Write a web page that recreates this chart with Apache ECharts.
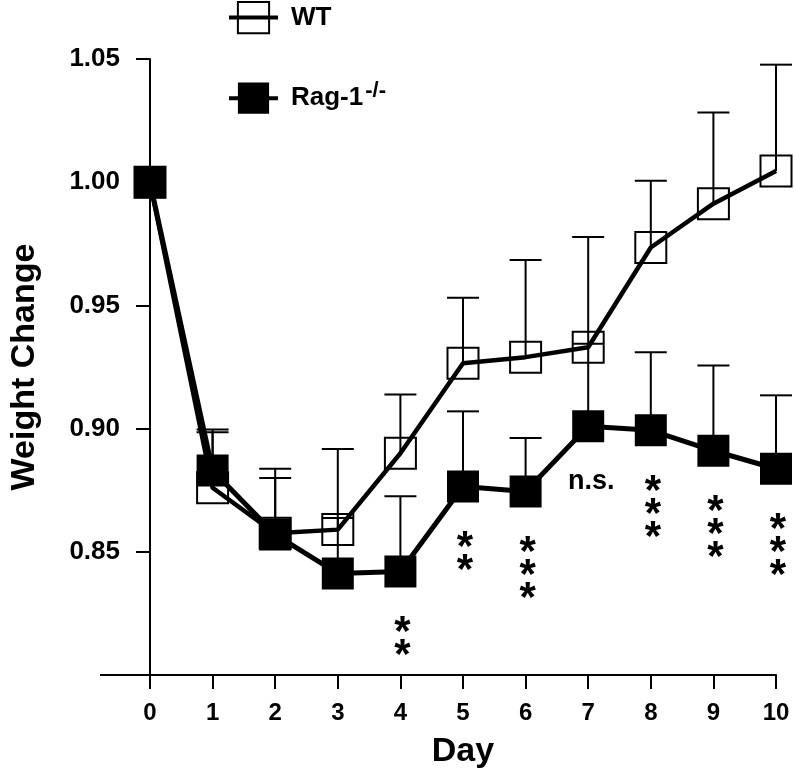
<!DOCTYPE html>
<html><head><meta charset="utf-8">
<script src="https://cdn.jsdelivr.net/npm/echarts@6/dist/echarts.min.js"></script>
<style>html,body{margin:0;padding:0;background:#fff}#c{width:794px;height:773px}</style>
</head><body><div id="c"></div>
<script>
const days = [0,1,2,3,4,5,6,7,8,9,10];
const wtMean   = [1.000,0.876,0.8575,0.859,0.890,0.9265,0.929,0.933,0.9735,0.9913,1.0045];
const wtUpper  = [1.000,0.8996,0.8837,0.8917,0.9138,0.9531,0.9684,0.9778,1.0006,1.0283,1.0477];
const ragMean  = [1.000,0.883,0.857,0.8412,0.842,0.8765,0.8745,0.901,0.8993,0.891,0.8837];
const ragUpper = [1.000,0.8985,0.880,0.8637,0.8725,0.907,0.8962,0.9344,0.931,0.9256,0.9135];
const sigLabels = ['','','','','**','**','***','n.s.','***','***','***'];
const yTickValues = [0.85,0.90,0.95,1.00,1.05];
const yBaseTick = [0.80];
const xTickValues = days;
const seriesNames = ['WT','Rag-1-/-'];

const FONT = 'Liberation Sans, Arial, sans-serif';
const chart = echarts.init(document.getElementById('c'), null, {renderer:'canvas'});

function errorSeries(mean, upper, z) {
  return {
    type:'custom', z:z, silent:true, clip:false,
    data: days.map((d,i)=>[d, mean[i], upper[i]]),
    encode:{x:0, y:[1,2]},
    renderItem:(params, api)=>{
      if (api.value(2) <= api.value(1)) return null;
      const p0 = api.coord([api.value(0), api.value(1)]);
      const p1 = api.coord([api.value(0), api.value(2)]);
      const hw = 16;
      return {type:'group', children:[
        {type:'line', shape:{x1:p0[0],y1:p0[1],x2:p1[0],y2:p1[1]}, style:{stroke:'#000', lineWidth:2}},
        {type:'line', shape:{x1:p1[0]-hw,y1:p1[1],x2:p1[0]+hw,y2:p1[1]}, style:{stroke:'#000', lineWidth:2}}
      ]};
    }
  };
}

const sigSeries = {
  type:'custom', z:10, silent:true, clip:false,
  data: days.map((d,i)=>[d, ragMean[i], i]),
  encode:{x:0, y:1},
  renderItem:(params, api)=>{
    const lab = sigLabels[api.value(2)];
    if (!lab) return null;
    const p = api.coord([api.value(0), api.value(1)]);
    if (lab === 'n.s.') {
      return {type:'text', style:{text:lab, x:p[0]+3, y:p[1]+55, align:'center', verticalAlign:'middle',
        font:'bold 27px ' + FONT, fill:'#000'}};
    }
    const children = [];
    for (let k=0;k<lab.length;k++) {
      children.push({type:'text', style:{text:'*', x:p[0]+2, y:p[1]+55+k*23+7, align:'center', verticalAlign:'middle',
        font:'bold 42px ' + FONT, fill:'#000'}});
    }
    return {type:'group', children:children};
  }
};

const option = {
  animation:false,
  backgroundColor:'#fff',
  grid:{left:150, right:18, top:59, bottom:98, containLabel:false, outerBoundsMode:'none'},
  legend:{
    orient:'vertical', left:227, top:1, padding:0, itemGap:46,
    itemWidth:49, itemHeight:39,
    data: seriesNames,
    lineStyle:{width:4},
    formatter: n => n === 'Rag-1-/-' ? 'Rag-1{sup|-/-}' : n,
    textStyle:{fontFamily:FONT, fontWeight:'bold', fontSize:26, color:'#000', padding:[0,0,0,8],
      rich:{sup:{fontFamily:FONT, fontWeight:'bold', fontSize:22, color:'#000', padding:[0,0,14,2]}}}
  },
  xAxis:{
    type:'value', min:0, max:10,
    name:'Day', nameLocation:'middle', nameGap:60,
    nameTextStyle:{fontFamily:FONT, fontWeight:'bold', fontSize:34, color:'#000'},
    axisLine:{onZero:false, lineStyle:{color:'#000', width:2}},
    axisTick:{show:true, length:14, lineStyle:{color:'#000', width:2}, customValues:xTickValues},
    axisLabel:{customValues:xTickValues, margin:26, fontFamily:FONT, fontWeight:'bold', fontSize:24, color:'#000'},
    splitLine:{show:false}
  },
  yAxis:[{
    type:'value', min:0.80, max:1.05,
    name:'Weight Change', nameLocation:'middle', nameGap:108, nameRotate:90,
    nameTextStyle:{fontFamily:FONT, fontWeight:'bold', fontSize:34, color:'#000'},
    axisLine:{show:true, onZero:false, lineStyle:{color:'#000', width:2}},
    axisTick:{show:true, length:14, lineStyle:{color:'#000', width:2}, customValues:yTickValues},
    axisLabel:{customValues:yTickValues, margin:30, formatter:v=>v.toFixed(2),
      fontFamily:FONT, fontWeight:'bold', fontSize:26, color:'#000'},
    splitLine:{show:false}
  },{
    type:'value', min:0.80, max:1.05, position:'left',
    axisLine:{show:false, onZero:false},
    axisTick:{show:true, length:50, lineStyle:{color:'#000', width:2}, customValues:yBaseTick},
    axisLabel:{show:false},
    splitLine:{show:false}
  }],
  series:[
    errorSeries(wtMean, wtUpper, 1),
    {
      name:'WT', type:'line', z:2, clip:false,
      data: days.map((d,i)=>[d, wtMean[i]]),
      symbol:'rect', symbolSize:31,
      lineStyle:{color:'#000', width:4.5},
      itemStyle:{color:'rgba(255,255,255,0)', borderColor:'#000', borderWidth:2},
      emphasis:{disabled:true}
    },
    errorSeries(ragMean, ragUpper, 3),
    {
      name:'Rag-1-/-', type:'line', z:4, clip:false,
      data: days.map((d,i)=>[d, ragMean[i]]),
      symbol:'rect', symbolSize:32,
      lineStyle:{color:'#000', width:5},
      itemStyle:{color:'#000', borderColor:'#000', borderWidth:0},
      emphasis:{disabled:true}
    },
    sigSeries
  ]
};
chart.setOption(option);
</script>
</body></html>
